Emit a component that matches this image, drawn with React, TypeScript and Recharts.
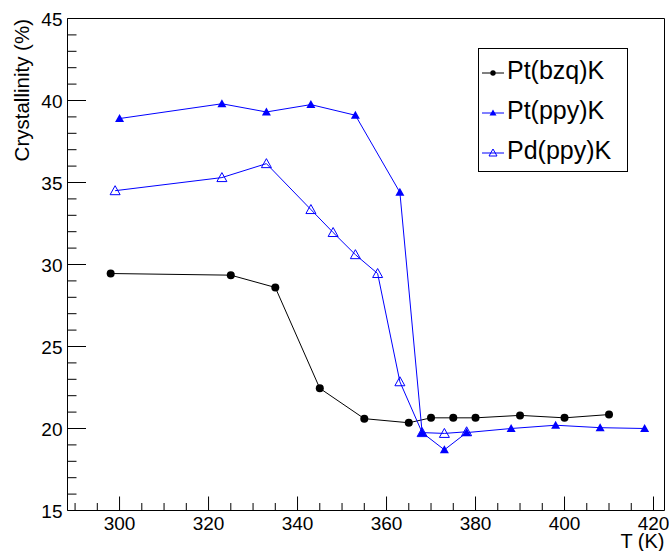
import React from 'react';
import { LineChart, Line, XAxis, YAxis, ReferenceLine, Legend, Label } from 'recharts';

// Pt(bzq)K
const bzqT = [298, 325, 335, 345, 355, 365, 370, 375, 380, 390, 400, 410];
const bzqC = [29.45, 29.35, 28.6, 22.45, 20.6, 20.35, 20.65, 20.65, 20.65, 20.8, 20.65, 20.85];
// Pt(ppy)K
const ptT = [300, 323, 333, 343, 353, 363, 368, 373, 378, 388, 398, 408, 418];
const ptC = [38.9, 39.8, 39.3, 39.75, 39.1, 34.4, 19.75, 18.7, 19.75, 20.0, 20.2, 20.05, 20.0];
// Pd(ppy)K
const pdT = [299, 323, 333, 343, 348, 353, 358, 363, 368, 373, 378];
const pdC = [34.5, 35.3, 36.15, 33.35, 31.95, 30.6, 29.45, 22.85, 19.75, 19.7, 19.8];

const seriesNames = ['Pt(bzq)K', 'Pt(ppy)K', 'Pd(ppy)K'];
const xTicks = [290, 295, 300, 305, 310, 315, 320, 325, 330, 335, 340, 345, 350, 355, 360, 365, 370, 375, 380, 385, 390, 395, 400, 405, 410, 415, 420];
const yTicks = [15, 16, 17, 18, 19, 20, 21, 22, 23, 24, 25, 26, 27, 28, 29, 30, 31, 32, 33, 34, 35, 36, 37, 38, 39, 40, 41, 42, 43, 44, 45];
const xDomain = [288.3, 422.47];
const yDomain = [15, 45];

const FONT = '"Liberation Sans", Arial, Helvetica, sans-serif';

const rows = (t: number[], c: number[]) => t.map((v, i) => ({ t: v, c: c[i] }));
const bzqData = rows(bzqT, bzqC);
const ptData = rows(ptT, ptC);
const pdData = rows(pdT, pdC);

const XTick = (props: any) => {
  const { x, y, payload } = props;
  const v = payload.value;
  const major = v % 20 === 0;
  return (
    <g>
      <line x1={x} x2={x} y1={y} y2={y - (major ? 14 : 7.5)} stroke="#000" strokeWidth={1} />
      {major && (
        <text x={x} y={y + 19.5} textAnchor="middle" fontSize={19} fontFamily={FONT} fill="#000">
          {v}
        </text>
      )}
    </g>
  );
};

const YTick = (props: any) => {
  const { x, y, payload } = props;
  const v = payload.value;
  const major = v % 5 === 0;
  return (
    <g>
      <line x1={x} x2={x + (major ? 18.5 : 9)} y1={y} y2={y} stroke="#000" strokeWidth={1} />
      {major && (
        <text x={x - 5} y={y + 7.5} textAnchor="end" fontSize={19} fontFamily={FONT} fill="#000">
          {v}
        </text>
      )}
    </g>
  );
};

const CircleDot = (props: any) => {
  const { cx, cy } = props;
  if (cx == null || cy == null) return <g />;
  return <circle cx={cx} cy={cy} r={4} fill="#000" />;
};

const FilledTri = (props: any) => {
  const { cx, cy } = props;
  if (cx == null || cy == null) return <g />;
  return <polygon points={`${cx},${cy - 4.5} ${cx - 4.5},${cy + 3.5} ${cx + 4.5},${cy + 3.5}`} fill="#0000ff" />;
};

const OpenTri = (props: any) => {
  const { cx, cy } = props;
  if (cx == null || cy == null) return <g />;
  return (
    <polygon
      points={`${cx},${cy - 5} ${cx - 5},${cy + 4} ${cx + 5},${cy + 4}`}
      fill="none"
      stroke="#0000ff"
      strokeWidth={1}
    />
  );
};

const LegendBox = () => {
  const rowsY = [25, 65, 105];
  return (
    <svg width={150} height={124} style={{ display: 'block' }}>
      <rect x={0.5} y={0.5} width={149} height={123} fill="#fff" stroke="#000" strokeWidth={1} />
      {seriesNames.map((name, i) => {
        const y = rowsY[i];
        const color = i === 0 ? '#000' : '#0000ff';
        return (
          <g key={name}>
            <line x1={4} x2={26} y1={y} y2={y} stroke={color} strokeWidth={1} />
            {i === 0 && <circle cx={15} cy={y} r={2.7} fill="#000" />}
            {i === 1 && (
              <polygon points={`15,${y - 3.5} ${11.5},${y + 2.5} ${18.5},${y + 2.5}`} fill="#0000ff" />
            )}
            {i === 2 && (
              <polygon
                points={`15,${y - 4} ${11},${y + 3} ${19},${y + 3}`}
                fill="none"
                stroke="#0000ff"
              />
            )}
            <text x={29} y={y + 6} fontSize={25} fontFamily={FONT} fill="#000">
              {name}
            </text>
          </g>
        );
      })}
    </svg>
  );
};

export default function App() {
  return (
    <div style={{ position: 'fixed', left: 0, top: 0, width: 669, height: 551, background: '#fff' }}>
      <LineChart
        width={669}
        height={551}
        margin={{ top: 18.5, right: 4.5, left: 0, bottom: 0 }}
      >
        <XAxis
          dataKey="t"
          type="number"
          domain={xDomain}
          allowDataOverflow
          ticks={xTicks}
          interval={0}
          tickSize={0}
          tickMargin={0}
          tick={<XTick />}
          axisLine={{ stroke: '#000', strokeWidth: 1 }}
          tickLine={false}
          height={40.5}
        >
          <Label
            content={(p: any) => {
              const vb = p.viewBox || {};
              return (
                <text
                  x={vb.x + vb.width}
                  y={vb.y + 37.5}
                  textAnchor="end"
                  fontSize={20}
                  fontFamily={FONT}
                  fill="#000"
                >
                  T (K)
                </text>
              );
            }}
          />
        </XAxis>
        <YAxis
          type="number"
          domain={yDomain}
          allowDataOverflow
          ticks={yTicks}
          interval={0}
          tickSize={0}
          tickMargin={0}
          tick={<YTick />}
          axisLine={{ stroke: '#000', strokeWidth: 1 }}
          tickLine={false}
          width={67.5}
        >
          <Label
            content={(p: any) => {
              const vb = p.viewBox || {};
              return (
                <text
                  transform={`translate(${vb.x + 29},${vb.y + 0.5}) rotate(-90)`}
                  textAnchor="end"
                  fontSize={20.5}
                  fontFamily={FONT}
                  fill="#000"
                >
                  Crystallinity (%)
                </text>
              );
            }}
          />
        </YAxis>
        <ReferenceLine y={yDomain[1]} stroke="#000" strokeWidth={1} ifOverflow="visible" />
        <ReferenceLine x={xDomain[1]} stroke="#000" strokeWidth={1} ifOverflow="visible" />
        <Line
          data={bzqData}
          dataKey="c"
          name={seriesNames[0]}
          stroke="#000"
          strokeWidth={1}
          dot={<CircleDot />}
          activeDot={false}
          isAnimationActive={false}
        />
        <Line
          data={ptData}
          dataKey="c"
          name={seriesNames[1]}
          stroke="#0000ff"
          strokeWidth={1}
          dot={<FilledTri />}
          activeDot={false}
          isAnimationActive={false}
        />
        <Line
          data={pdData}
          dataKey="c"
          name={seriesNames[2]}
          stroke="#0000ff"
          strokeWidth={1}
          dot={<OpenTri />}
          activeDot={false}
          isAnimationActive={false}
        />
        <Legend
          layout="vertical"
          align="center"
          verticalAlign="middle"
          content={() => <LegendBox />}
          wrapperStyle={{ left: 478, top: 48, width: 150, height: 124 }}
        />
      </LineChart>
    </div>
  );
}
